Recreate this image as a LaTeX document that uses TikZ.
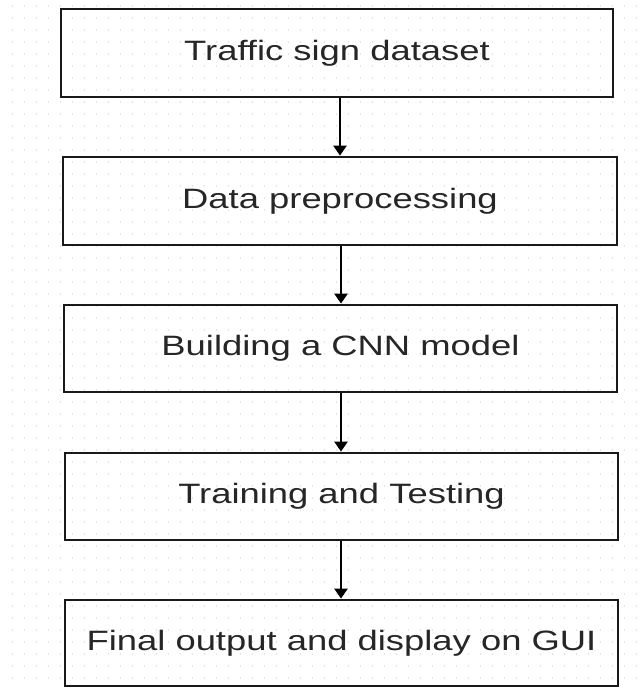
\documentclass[tikz,border=0pt]{standalone}
\usepackage{fontspec}
\setmainfont{Liberation Sans}
\newfontfamily\stagefont[FakeStretch=1.3]{Liberation Sans}
\usetikzlibrary{arrows.meta}
\begin{document}
\begin{tikzpicture}[x=1pt,y=1pt,
  stagebox/.style={draw=black!90, line width=2.8pt, minimum width=#1, minimum height=86pt, inner sep=0pt, font=\stagefont\fontsize{28}{32}\selectfont, text=black!85},
  flowarrow/.style={draw=black, line width=2.6pt, -{Triangle[length=10pt,width=13pt]}}]
\fill[white] (0,0) rectangle (644,-688);
\useasboundingbox (0,0) rectangle (644,-688);
\foreach \i in {0,...,53} {\foreach \j in {0,...,57} {\fill[black!12] (12.5+\i*12,-6-\j*12) circle (0.8pt);}}
\node[stagebox=552pt, minimum height=88pt] (b1) at (337,-53) {Traffic sign dataset};
\node[stagebox=554pt, minimum height=88pt] (b2) at (340,-201) {Data preprocessing};
\node[stagebox=553pt, minimum height=87pt] (b3) at (340.5,-348.5) {Building a CNN model};
\node[stagebox=553pt, minimum height=87pt] (b4) at (341.5,-496.5) {Training and Testing};
\node[stagebox=553pt, minimum height=86pt] (b5) at (341.5,-643) {Final output and display on GUI};
\draw[flowarrow] (b1.south -| 340,0) -- (b2.north -| 340,0);
\draw[flowarrow] (b2.south -| 341,0) -- (b3.north -| 341,0);
\draw[flowarrow] (b3.south -| 341,0) -- (b4.north -| 341,0);
\draw[flowarrow] (b4.south -| 341,0) -- (b5.north -| 341,0);
\end{tikzpicture}
\end{document}
